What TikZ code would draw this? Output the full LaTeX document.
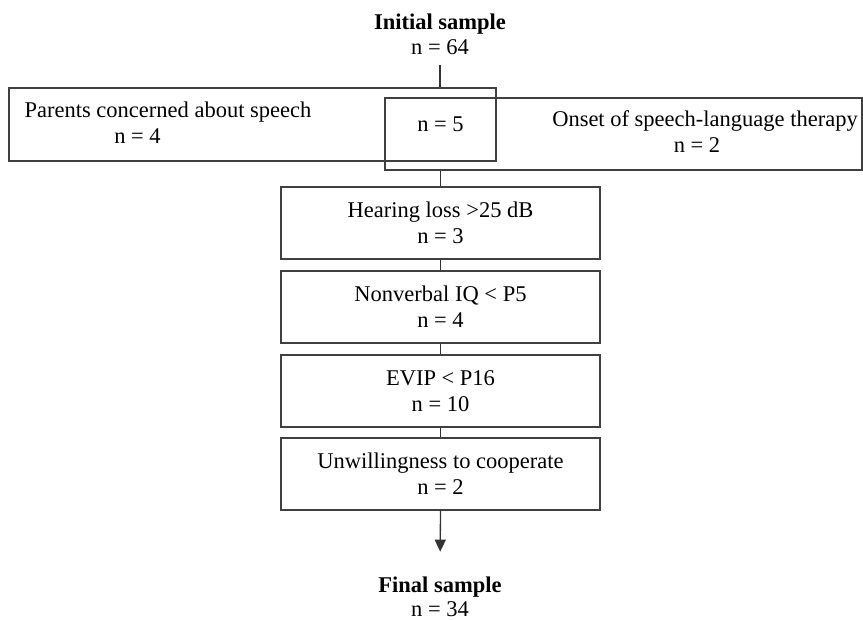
\documentclass[tikz,border=0pt]{standalone}
\usepackage{fontspec}
\setmainfont{Liberation Serif}
\usetikzlibrary{arrows.meta}
\begin{document}
\begin{tikzpicture}[x=1pt,y=-1pt,
  every node/.style={font=\fontsize{22.5}{26}\selectfont, text=black},
  txt/.style={inner sep=0pt, anchor=base},
  box/.style={draw=black!75, line width=1.3pt, inner sep=0pt, align=center},
  stepbox/.style={box, minimum width=319pt, minimum height=72pt},
  conn/.style={draw=black!80, line width=1.3pt}
]
\useasboundingbox (0,0) rectangle (863,620);

% title
\node[txt, font=\fontsize{22.5}{26}\selectfont\bfseries] (init) at (440,30) {Initial sample};
\node[txt] (n64) at (440,55) {n = 64};

% overlapping boxes
\node[box, minimum width=487pt, minimum height=73pt] (lbox) at (252.5,124.5) {};
\node[box, minimum width=477pt, minimum height=72pt] (rbox) at (623.5,134) {};
\node[txt] (parents) at (168,117.7) {Parents concerned about speech};
\node[txt] (n4) at (137.5,143.3) {n = 4};
\node[txt] (onset) at (705,127) {Onset of speech-language therapy};
\node[txt] (n2) at (697,153) {n = 2};
\node[txt] (n5) at (440.5,132) {n = 5};

% chain
\node[stepbox] (hear) at (440.5,223) {Hearing loss >25 dB\\n = 3};
\node[stepbox] (nonv) at (440.5,307) {Nonverbal IQ < P5\\n = 4};
\node[stepbox] (evip) at (440.5,391) {EVIP < P16\\n = 10};
\node[stepbox] (unw) at (440.5,474) {Unwillingness to cooperate\\n = 2};

% final
\node[txt, font=\fontsize{22.5}{26}\selectfont\bfseries] (final) at (440,592) {Final sample};
\node[txt] (n34) at (440,616.5) {n = 34};

% connectors
\draw[conn, shorten <=10pt] (n64.south) -- (n64.south |- lbox.north);
\draw[conn] (hear.north |- rbox.south) -- (hear.north);
\draw[conn] (hear.south) -- (nonv.north);
\draw[conn] (nonv.south) -- (evip.north);
\draw[conn] (evip.south) -- (unw.north);
\draw[conn, -{Triangle[length=12pt,width=11pt]}, shorten >=24.5pt] (unw.south) -- (final.north);
\end{tikzpicture}
\end{document}
